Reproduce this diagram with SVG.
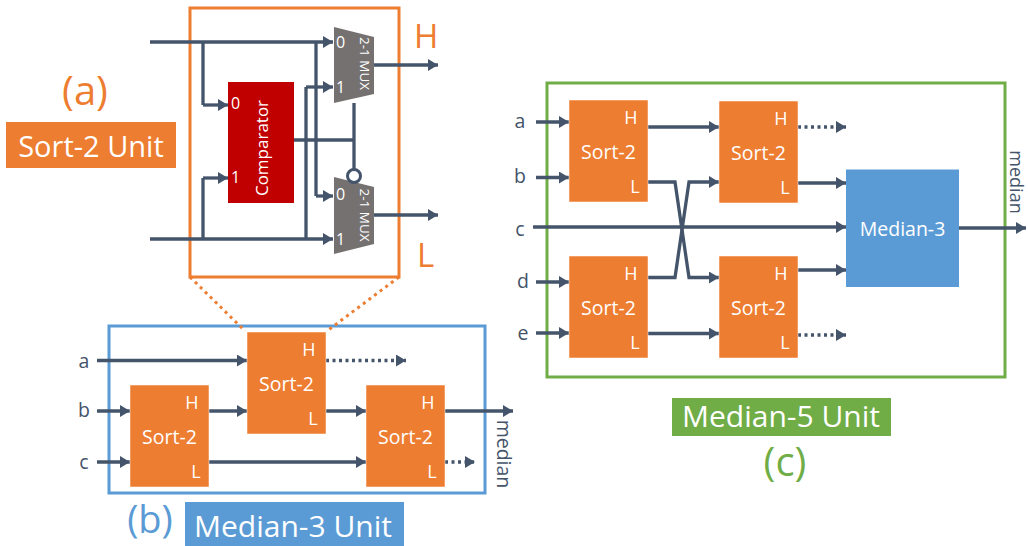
<svg xmlns="http://www.w3.org/2000/svg" width="1028" height="546" viewBox="0 0 1028 546">
<style>
text{font-family:"Open Sans","Noto Sans","Liberation Sans",sans-serif}
.w{fill:#fff}
.s{fill:#ED7D31}
.d{fill:#44546A;font-size:19.500px}
.m{text-anchor:middle}
.box{fill:#ED7D31;stroke:#fff;stroke-width:.5}
.c{fill:none;stroke:#44546A;stroke-width:3.300;marker-end:url(#a)}
.n{fill:none;stroke:#44546A;stroke-width:3.300}
.dot{stroke-dasharray:3 3.500}
.t{font-size:19.500px}
.p{font-size:18px}
</style>
<defs>
<marker id="a" markerUnits="userSpaceOnUse" markerWidth="10" markerHeight="12" refX="10" refY="6" orient="auto"><path d="M0 0L10 6L0 12Z" fill="#44546A"/></marker>
<g id="sort"><rect class="box" width="79" height="102"/><text class="w t m" x="39.500" y="59">Sort-2</text><text class="w p m" x="62" y="24">H</text><text class="w p m" x="66" y="93">L</text></g>
</defs>
<g id="panels" fill="none" stroke-width="3">
<rect x="190" y="8" width="209" height="269" stroke="#ED7D31"/>
<rect x="109" y="326" width="376" height="167" stroke="#5B9BD5"/>
<rect x="547" y="83" width="458" height="294" stroke="#70AD47"/>
<path d="M190 277L245 331M399 277L327 331" stroke="#ED7D31" stroke-dasharray="3 4"/>
</g>
<g id="connectors">
<path class="n" d="M203 42V105M203 239V178M306 239V87M316 42V196M294 140H354M354 103V170"/>
<path class="c" d="M150 42H333"/><path class="c" d="M203 105H228"/><path class="c" d="M203 178H228"/><path class="c" d="M150 239H333"/><path class="c" d="M306 87H333"/><path class="c" d="M316 196H333"/><path class="c" d="M374 65H438"/><path class="c" d="M374 215H438"/>
<path class="c" d="M97 360.500H247"/><path class="c" d="M97 411H130"/><path class="c" d="M97 462H130"/><path class="c" d="M209 411H247"/><path class="c" d="M209 462H366"/><path class="c" d="M326 411H366"/><path class="c" d="M445 411H513"/>
<path class="c dot" d="M326 360.500H406"/><path class="c dot" d="M445 462H475"/>
<path class="c" d="M536 122H569"/><path class="c" d="M536 177.500H569"/><path class="c" d="M536 282H569"/><path class="c" d="M536 333H569"/><path class="c" d="M533 227H846"/>
<path class="c" d="M648 127H719"/><path class="c" d="M648 182H675L689 277.500H719"/><path class="c" d="M648 277.500H675L689 182H719"/><path class="c" d="M648 333.500H719"/>
<path class="c dot" d="M798 127H846"/><path class="c dot" d="M798 335H846"/><path class="c" d="M798 183H846"/><path class="c" d="M798 270H846"/><path class="c" d="M959 228H1026"/>
</g>
<g id="comparator"><rect x="228" y="82" width="66" height="121" fill="#C00000"/><text class="w" font-size="16" x="231" y="109">0</text><text class="w" font-size="16" x="231" y="183">1</text><text class="w m" font-size="17" transform="translate(268 148) rotate(-90)">Comparator</text></g>
<g id="mux-top"><path d="M334 27L374 37V94L334 103Z" fill="#767171"/><text class="w" font-size="16" x="336" y="47.500">0</text><text class="w" font-size="16" x="336" y="93">1</text><text class="w m" font-size="13.500" transform="translate(360 63.500) rotate(90)">2-1 MUX</text></g>
<g id="mux-bottom"><path d="M334 177L374 187V244L334 254Z" fill="#767171"/><text class="w" font-size="16" x="336" y="199.500">0</text><text class="w" font-size="16" x="336" y="244.500">1</text><text class="w m" font-size="13.500" transform="translate(360 215) rotate(90)">2-1 MUX</text><circle cx="354" cy="176" r="6.500" fill="#fff" stroke="#44546A" stroke-width="3"/></g>
<g id="label-a"><text class="s m" x="85" y="105" font-size="40">(a)</text><rect x="6" y="122" width="170" height="46" fill="#ED7D31"/><text class="w m" x="91" y="157" font-size="29">Sort-2 Unit</text><text class="s" x="414" y="48" font-size="33">H</text><text class="s" x="417" y="267" font-size="33">L</text></g>
<g id="median3">
<use id="b1" href="#sort" x="130" y="385"/><use id="b2" href="#sort" x="247" y="332"/><use id="b3" href="#sort" x="366" y="385"/>
<text class="d m" x="84" y="368">a</text><text class="d m" x="84" y="417">b</text><text class="d m" x="84" y="469">c</text>
<text class="d m" transform="translate(497 454) rotate(90)">median</text>
<text x="150" y="533" fill="#5B9BD5" font-size="38" text-anchor="middle">(b)</text><rect x="185" y="502" width="219" height="44" fill="#5B9BD5"/><text class="w m" x="293" y="537" font-size="30">Median-3 Unit</text>
</g>
<g id="median5">
<use id="c1" href="#sort" x="569" y="100"/><use id="c2" href="#sort" x="719" y="101"/><use id="c3" href="#sort" x="569" y="256"/><use id="c4" href="#sort" x="719" y="256"/>
<g id="m3"><rect x="846" y="169.500" width="113" height="117.500" fill="#5B9BD5"/><text class="w t m" x="902.500" y="236">Median-3</text></g>
<text class="d m" x="520" y="128">a</text><text class="d m" x="520" y="183">b</text><text class="d m" x="520" y="236">c</text><text class="d m" x="523" y="288">d</text><text class="d m" x="523" y="340">e</text>
<text class="d m" font-size="18" style="font-size:18px" transform="translate(1010 182) rotate(90)">median</text>
<rect x="672" y="398" width="219" height="38" fill="#70AD47"/><text class="w m" x="781" y="427" font-size="30">Median-5 Unit</text><text x="785" y="476" fill="#70AD47" font-size="40" text-anchor="middle">(c)</text>
</g>
</svg>
